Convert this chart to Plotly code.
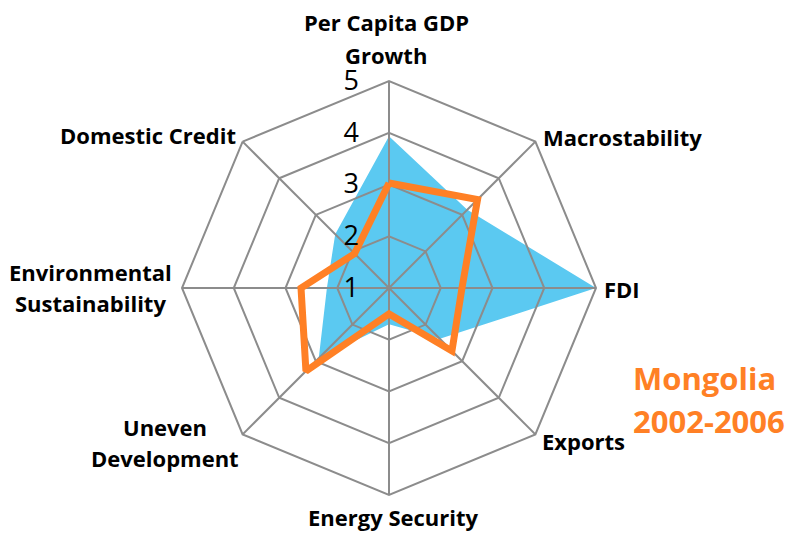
import plotly.graph_objects as go

# ---- data ----
categories = ["Per Capita GDP Growth", "Macrostability", "FDI", "Exports",
              "Energy Security", "Uneven Development",
              "Environmental Sustainability", "Domestic Credit"]
category_labels = ["Per Capita GDP<br>Growth", "Macrostability", "FDI", "Exports",
                   "Energy Security", "Uneven<br>Development",
                   "Environmental<br>Sustainability", "Domestic Credit"]
fill_values = [3.93, 3.14, 5.0, 2.39, 1.7, 2.92, 2.2, 2.47]
line_values = [3.03, 3.42, 2.41, 2.72, 1.5, 3.27, 2.7, 1.94]
radial_ticks = [1, 2, 3, 4, 5]
title_lines = ["Mongolia", "2002-2006"]

# ---- styling / layout ----
W, H = 797, 534
cx, cy, R = 389, 288, 207
dom_x = [(cx - R) / W, (cx + R) / W]
dom_y = [1 - (cy + R) / H, 1 - (cy - R) / H]

BLUE = "#5BC9F1"
ORANGE = "#FF8025"
GRID = "#8C8C8C"
FONT = "Open Sans"

# label anchor positions in pixels (layout only): x centre, y centre of each line
label_pos = [(386, [22, 55]), (622, [137]), (622, [289]), (583, [441]),
             (393, [517]), (165, [427, 458]), (90, [272, 303]), (148, [135])]
title_pos = (631, [378, 421])

closed = lambda v: list(v) + [v[0]]
theta_closed = closed(categories)

fig = go.Figure()
fig.add_trace(go.Scatterpolar(
    r=closed(fill_values), theta=theta_closed, subplot="polar",
    mode="lines", fill="toself", fillcolor=BLUE,
    line=dict(color=BLUE, width=0), hoverinfo="skip", showlegend=False))
fig.add_trace(go.Scatterpolar(
    r=closed(line_values), theta=theta_closed, subplot="polar2",
    mode="lines", line=dict(color=ORANGE, width=7),
    hoverinfo="skip", showlegend=False))

common_ang = dict(direction="clockwise", rotation=90, categoryorder="array",
                  categoryarray=categories)

fig.update_layout(
    width=W, height=H,
    margin=dict(l=0, r=0, t=0, b=0),
    paper_bgcolor="white",
    polar=dict(
        domain=dict(x=dom_x, y=dom_y),
        gridshape="linear",
        bgcolor="white",
        radialaxis=dict(range=[1, 5], visible=False),
        angularaxis=dict(visible=False, **common_ang),
    ),
    polar2=dict(
        domain=dict(x=dom_x, y=dom_y),
        gridshape="linear",
        bgcolor="rgba(0,0,0,0)",
        radialaxis=dict(range=[1, 5], tickvals=radial_ticks,
                        ticktext=[str(t) for t in radial_ticks],
                        angle=90, tickangle=90, side="counterclockwise",
                        showline=False, showgrid=True,
                        gridcolor=GRID, gridwidth=2,
                        ticks="outside", ticklen=20, tickcolor="rgba(0,0,0,0)",
                        tickfont=dict(family=FONT, size=27, color="black")),
        angularaxis=dict(showticklabels=False, ticks="",
                         showline=True, linecolor=GRID, linewidth=2,
                         showgrid=True, gridcolor=GRID, gridwidth=2,
                         **common_ang),
    ),
)

for text, (px, ys) in zip(category_labels, label_pos):
    for line, py in zip(text.split("<br>"), ys):
        fig.add_annotation(
            x=px / W, y=1 - py / H, xref="paper", yref="paper",
            text="<b>" + line + "</b>", showarrow=False,
            xanchor="center", yanchor="middle", align="center",
            font=dict(family=FONT, size=22, color="black"))

for line, py in zip(title_lines, title_pos[1]):
    fig.add_annotation(
        x=title_pos[0] / W, y=1 - py / H, xref="paper", yref="paper",
        text="<b>" + line + "</b>", showarrow=False,
        xanchor="left", yanchor="middle", align="left",
        font=dict(family=FONT, size=31, color=ORANGE))

fig.write_html(
    "out.html",
    config={"displayModeBar": False},
    post_script="document.body.style.margin='0';document.body.style.overflow='hidden';")
